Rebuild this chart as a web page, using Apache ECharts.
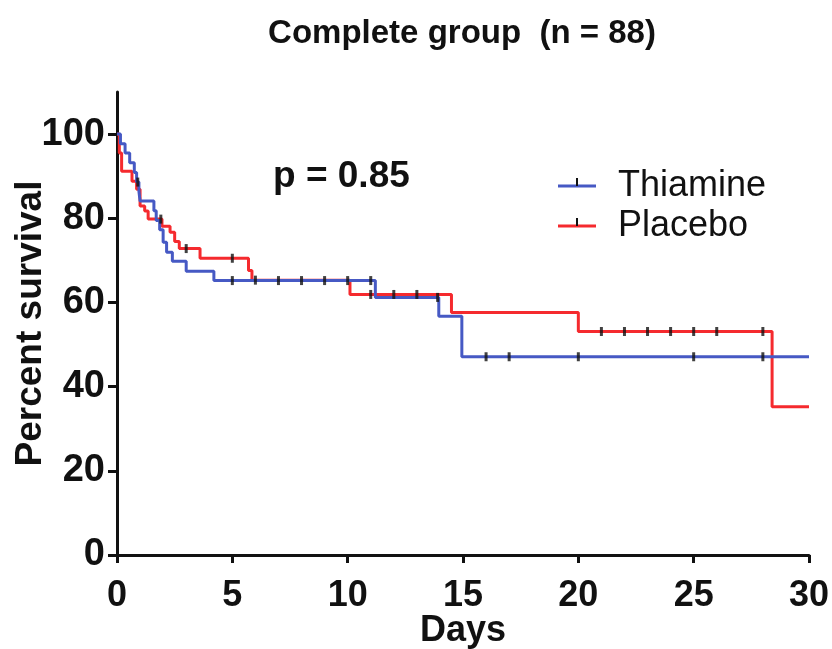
<!DOCTYPE html>
<html>
<head>
<meta charset="utf-8">
<title>Complete group (n = 88)</title>
<script src="https://cdn.jsdelivr.net/npm/echarts@6/dist/echarts.min.js"></script>
<style>
  html, body { margin: 0; padding: 0; background: #fff; }
  #chart { width: 832px; height: 649px; }
</style>
</head>
<body>
<div id="chart"></div>
<script>
// Kaplan-Meier steps (day, percent surviving after the step)
const thiamineDays = [0, 0.15, 0.35, 0.55, 0.75, 0.85, 0.95, 1.0, 1.6, 1.7, 1.85, 2.0, 2.15, 2.4, 3.0, 4.2, 11.2, 13.95, 14.95, 30]
const thiamineSurv = [100, 97.7, 95.5, 93.2, 90.9, 88.6, 86.4, 84.1, 81.8, 79.5, 77.3, 74.3, 71.9, 69.8, 67.4, 65.2, 61.2, 56.7, 47.1, 47.1]
const placeboDays = [0, 0.1, 0.2, 0.65, 0.85, 1.0, 1.2, 1.35, 1.95, 2.3, 2.5, 2.7, 3.6, 5.7, 5.85, 10.1, 14.5, 20.0, 28.4, 30]
const placeboSurv = [100, 95.5, 91.2, 88.8, 86.9, 82.9, 81.7, 79.8, 78.1, 76.7, 74.5, 72.8, 70.5, 67.6, 65.3, 61.9, 57.6, 53.1, 35.2, 35.2]

// censored observations (days)
const thiamineCensor = [0.9, 5, 7, 8, 9, 10, 11, 13.9, 16, 17, 20, 25, 28]
const placeboCensor = [1.9, 3, 5, 6, 11, 12, 13, 21, 22, 23, 24, 25, 26, 28]

const xTicks = [0, 5, 10, 15, 20, 25, 30]
const yTicks = [0, 20, 40, 60, 80, 100]

const BLUE = '#4659c4'
const RED = '#f52a2e'
const INK = '#111'
const FONT = 'Liberation Sans, Arial, Helvetica, sans-serif'

// survival value of a step curve at a given day
const survAt = (days, surv, d) => {
  let v = surv[0]
  for (let i = 0; i < days.length; i++) {
    if (days[i] <= d) v = surv[i]
  }
  return v
}

const toPairs = (xs, ys) => xs.map((x, i) => [x, ys[i]])
const censorPairs = (cens, days, surv) => cens.map(d => [d, survAt(days, surv, d)])

// small black tick in the middle of each legend line
const legendTick = (top) => ({
  type: 'rect',
  left: 576,
  top: top,
  shape: { width: 2, height: 8 },
  style: { fill: INK },
  z: 10
})

const chart = echarts.init(document.getElementById('chart'), null, { renderer: 'canvas' })

const options = {
  animation: false,
  backgroundColor: '#fff',
  title: {
    text: 'Complete group  (n = 88)',
    left: 457,
    textAlign: 'center',
    top: 12,
    textStyle: { fontFamily: FONT, fontWeight: 'bold', fontSize: 33, color: INK }
  },
  legend: {
    orient: 'vertical',
    left: 553,
    top: 163,
    itemWidth: 38,
    itemHeight: 14,
    itemGap: 4,
    icon: 'path://M0 0H38V3H0Z',
    data: ['Thiamine', 'Placebo'],
    textStyle: {
      fontFamily: FONT, fontSize: 36, color: INK, lineHeight: 36,
      padding: [0, 0, 0, 17]
    }
  },
  graphic: [
    {
      type: 'text',
      left: 273,
      top: 158,
      style: { text: 'p = 0.85', fontFamily: FONT, fontWeight: 'bold', fontSize: 37, fill: INK }
    },
    legendTick(178),
    legendTick(218)
  ],
  grid: { left: 117, right: 23, top: 92, bottom: 94, outerBoundsMode: 'none', containLabel: false },
  xAxis: {
    type: 'value',
    min: 0,
    max: 30,
    interval: 5,
    name: 'Days',
    nameLocation: 'middle',
    nameGap: 58,
    nameMoveOverlap: false,
    nameTextStyle: { fontFamily: FONT, fontWeight: 'bold', fontSize: 36, color: INK },
    splitLine: { show: false },
    axisLine: { lineStyle: { color: INK, width: 3 } },
    axisTick: { length: 8, lineStyle: { color: INK, width: 3 }, customValues: xTicks },
    axisLabel: {
      customValues: xTicks,
      margin: 23,
      fontFamily: FONT, fontWeight: 'bold', fontSize: 36, color: INK
    }
  },
  yAxis: {
    type: 'value',
    min: 0,
    max: 110,
    name: 'Percent survival',
    nameLocation: 'middle',
    nameGap: 68,
    nameMoveOverlap: false,
    nameTextStyle: { fontFamily: FONT, fontWeight: 'bold', fontSize: 37, color: INK },
    splitLine: { show: false },
    axisLine: { lineStyle: { color: INK, width: 3 } },
    axisTick: { length: 9, lineStyle: { color: INK, width: 3 }, customValues: yTicks },
    axisLabel: {
      customValues: yTicks,
      margin: 12,
      fontFamily: FONT, fontWeight: 'bold', fontSize: 38, color: INK
    }
  },
  series: [
    {
      name: 'Thiamine',
      type: 'line',
      step: 'end',
      data: toPairs(thiamineDays, thiamineSurv),
      symbol: 'none',
      itemStyle: { color: BLUE },
      lineStyle: { color: BLUE, width: 3 },
      z: 3
    },
    {
      name: 'Placebo',
      type: 'line',
      step: 'end',
      data: toPairs(placeboDays, placeboSurv),
      symbol: 'none',
      itemStyle: { color: RED },
      lineStyle: { color: RED, width: 3 },
      z: 2
    },
    {
      name: 'Thiamine censored',
      type: 'scatter',
      data: censorPairs(thiamineCensor, thiamineDays, thiamineSurv),
      symbol: 'rect',
      symbolSize: [3, 9],
      itemStyle: { color: INK },
      z: 5
    },
    {
      name: 'Placebo censored',
      type: 'scatter',
      data: censorPairs(placeboCensor, placeboDays, placeboSurv),
      symbol: 'rect',
      symbolSize: [3, 9],
      itemStyle: { color: INK },
      z: 5
    }
  ]
}

chart.setOption(options)
</script>
</body>
</html>
